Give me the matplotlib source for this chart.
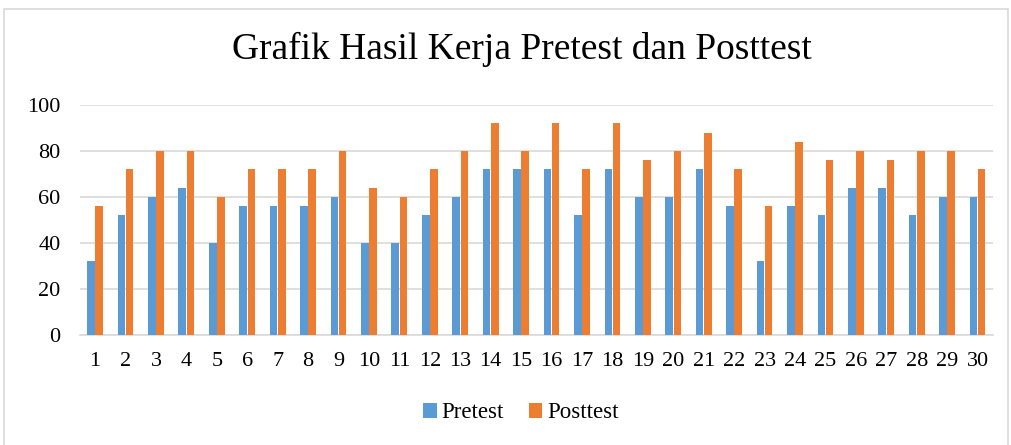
import matplotlib
matplotlib.use("Agg")
import matplotlib.pyplot as plt
import numpy as np
from matplotlib.patches import Rectangle

categories = [str(i) for i in range(1, 31)]
pretest = [32, 52, 60, 64, 40, 56, 56, 56, 60, 40, 40, 52, 60, 72, 72,
           72, 52, 72, 60, 60, 72, 56, 32, 56, 52, 64, 64, 52, 60, 60]
posttest = [56, 72, 80, 80, 60, 72, 72, 72, 80, 64, 60, 72, 80, 92, 80,
            92, 72, 92, 76, 80, 88, 72, 56, 84, 76, 80, 76, 80, 80, 72]
yticks = [0, 20, 40, 60, 80, 100]

plt.rcParams['font.family'] = ['Liberation Serif', 'DejaVu Serif']

fig = plt.figure(figsize=(10.11, 4.45), dpi=100)
ax = fig.add_axes([0.079, 0.247, 0.903, 0.517])

x = np.arange(len(categories))
w = 0.25
ax.bar(x - 0.135, pretest, w, color='#5B9BD5', label='Pretest', zorder=3)
ax.bar(x + 0.135, posttest, w, color='#ED7D31', label='Posttest', zorder=3)

ax.set_xlim(-0.5, len(categories) - 0.5)
ax.set_ylim(0, 100)
ax.set_yticks(yticks)
ax.set_xticks(x)
ax.set_xticklabels(categories)
ax.tick_params(axis='both', length=0, labelsize=16, colors='#000000')
ax.tick_params(axis='x', pad=12)
ax.tick_params(axis='y', pad=14)
ax.grid(axis='y', color='#d9d9d9', linewidth=1.2, zorder=0)
for s in ['top', 'right', 'left']:
    ax.spines[s].set_visible(False)
ax.spines['bottom'].set_color('#d9d9d9')
ax.spines['bottom'].set_linewidth(1.2)

fig.text(0.516, 0.888, 'Grafik Hasil Kerja Pretest dan Posttest',
         ha='center', va='center', fontsize=27)

fig.legend(loc='center', bbox_to_anchor=(0.515, 0.072), ncol=2, frameon=False,
           fontsize=16.5, handlelength=0.6, handleheight=0.6, handletextpad=0.2,
           columnspacing=1.1)

fig.patches.append(Rectangle((0.004, -0.01), 0.993, 0.99, transform=fig.transFigure,
                             fill=False, edgecolor='#d9d9d9', linewidth=1.2))

fig.savefig('out.png', dpi=100)
